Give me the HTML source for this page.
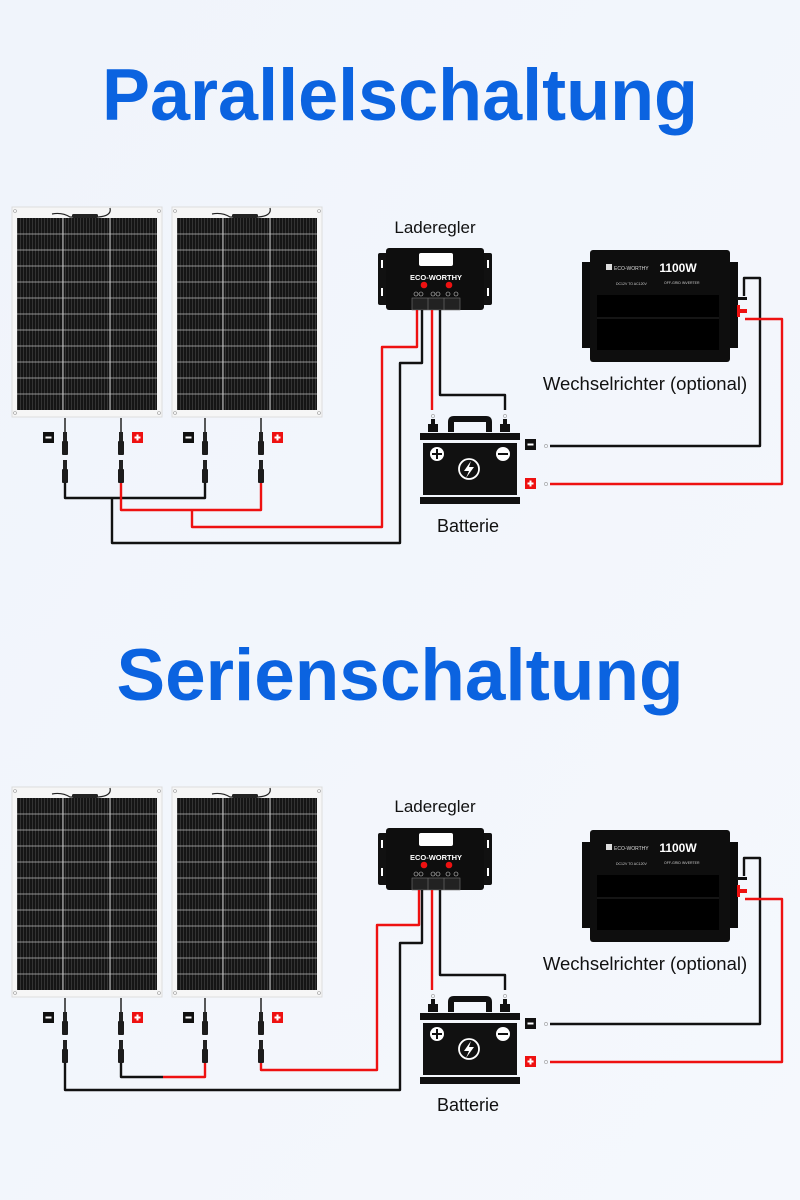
<!DOCTYPE html>
<html><head><meta charset="utf-8"><style>
html,body{margin:0;padding:0;width:800px;height:1200px;overflow:hidden;background:#f1f5fb}
svg{display:block}
text{font-family:"Liberation Sans",sans-serif}
</style></head><body>
<svg width="800" height="1200" viewBox="0 0 800 1200" xmlns="http://www.w3.org/2000/svg">
<defs>
<linearGradient id="bg" x1="0" y1="0" x2="1" y2="1"><stop offset="0" stop-color="#f0f4fb"/><stop offset="1" stop-color="#f5f8fd"/></linearGradient>
<pattern id="cellv" width="3" height="10" patternUnits="userSpaceOnUse"><rect width="3" height="10" fill="#151515"/><rect x="2" width="0.8" height="10" fill="#3a3a3a"/></pattern>
<g id="panel">
<rect x="0" y="0" width="150" height="210" fill="#f6f6f6" stroke="#ddd" stroke-width="1"/>
<rect x="5" y="11" width="140" height="192" fill="url(#cellv)"/>
<g stroke="#bbb" stroke-width="0.8">
<line x1="5" y1="27" x2="145" y2="27"/><line x1="5" y1="43" x2="145" y2="43"/><line x1="5" y1="59" x2="145" y2="59"/><line x1="5" y1="75" x2="145" y2="75"/><line x1="5" y1="91" x2="145" y2="91"/><line x1="5" y1="107" x2="145" y2="107"/><line x1="5" y1="123" x2="145" y2="123"/><line x1="5" y1="139" x2="145" y2="139"/><line x1="5" y1="155" x2="145" y2="155"/><line x1="5" y1="171" x2="145" y2="171"/><line x1="5" y1="187" x2="145" y2="187"/>
</g>
<g stroke="#ccc" stroke-width="1"><line x1="51" y1="11" x2="51" y2="203"/><line x1="98" y1="11" x2="98" y2="203"/></g>
<path d="M40 7 Q50 5 58 10 L86 10 Q100 9 98 1" fill="none" stroke="#222" stroke-width="1.2"/>
<rect x="60" y="7" width="26" height="4" rx="1.5" fill="#222"/>
<g fill="none" stroke="#999" stroke-width="0.6"><circle cx="3" cy="4" r="1.5"/><circle cx="147" cy="4" r="1.5"/><circle cx="3" cy="206" r="1.5"/><circle cx="147" cy="206" r="1.5"/></g>
</g>
<g id="conn">
<rect x="-2" y="0" width="4" height="10" fill="#222"/>
<rect x="-3" y="9" width="6" height="14" rx="1" fill="#1c1c1c"/>
</g>
<g id="minus"><rect width="11" height="11" fill="#111"/><rect x="2.5" y="4.5" width="6" height="2" fill="#fff"/></g>
<g id="plus"><rect width="11" height="11" fill="#e11"/><rect x="2.5" y="4.5" width="6" height="2" fill="#fff"/><rect x="4.5" y="2.5" width="2" height="6" fill="#fff"/></g>
<g id="ctrl">
<rect x="378" y="253" width="10" height="52" rx="2" fill="#111"/>
<rect x="482" y="253" width="10" height="52" rx="2" fill="#111"/>
<rect x="386" y="248" width="98" height="62" rx="3" fill="#0e0e0e"/>
<rect x="381" y="260" width="2" height="8" fill="#fff"/><rect x="381" y="288" width="2" height="8" fill="#fff"/>
<rect x="487" y="260" width="2" height="8" fill="#fff"/><rect x="487" y="288" width="2" height="8" fill="#fff"/>
<rect x="419" y="253" width="34" height="13" rx="2" fill="#fff"/>
<text x="436" y="280" font-size="7.5" font-weight="bold" fill="#fff" text-anchor="middle">ECO-WORTHY</text>
<circle cx="424" cy="285" r="3.3" fill="#e11"/><circle cx="449" cy="285" r="3.3" fill="#e11"/>
<g fill="none" stroke="#ccc" stroke-width="0.6"><circle cx="416" cy="294" r="2"/><circle cx="421" cy="294" r="2"/><circle cx="433" cy="294" r="2"/><circle cx="438" cy="294" r="2"/><circle cx="448" cy="294" r="2"/><circle cx="456" cy="294" r="2"/></g>
<rect x="412" y="298" width="48" height="12" fill="#222" stroke="#777" stroke-width="0.6"/>
<line x1="428" y1="298" x2="428" y2="310" stroke="#777" stroke-width="0.6"/><line x1="444" y1="298" x2="444" y2="310" stroke="#777" stroke-width="0.6"/>
</g>
<g id="inv">
<rect x="582" y="262" width="156" height="86" fill="#0b0b0b"/>
<rect x="590" y="250" width="140" height="112" rx="3" fill="#0e0e0e"/>
<rect x="597" y="295" width="122" height="55" fill="#000"/>
<line x1="597" y1="318" x2="719" y2="318" stroke="#2a2a2a"/>
<rect x="606" y="264" width="6" height="6" fill="#ddd"/>
<text x="614" y="270" font-size="5" fill="#ddd">ECO-WORTHY</text>
<text x="678" y="272" font-size="12" font-weight="bold" fill="#fff" text-anchor="middle">1100W</text>
<text x="616" y="285" font-size="3.5" fill="#ccc">DC12V TO AC120V</text>
<text x="664" y="284" font-size="3.5" fill="#ccc">OFF-GRID INVERTER</text>
<rect x="737" y="297" width="10" height="3" fill="#111"/>
<rect x="737" y="309" width="10" height="4" fill="#e11"/>
<rect x="737" y="305" width="3" height="12" fill="#e11"/>
</g>
<g id="batt">
<circle cx="433" cy="416" r="1.6" fill="none" stroke="#999" stroke-width="0.6"/><circle cx="505" cy="416" r="1.6" fill="none" stroke="#999" stroke-width="0.6"/>
<rect x="431" y="419" width="4" height="5" fill="#111"/><rect x="428" y="424" width="10" height="8" fill="#111"/>
<rect x="503" y="419" width="4" height="5" fill="#111"/><rect x="500" y="424" width="10" height="8" fill="#111"/>
<path d="M448 432 L448 422 Q448 416 454 416 L486 416 Q492 416 492 422 L492 432 Z M454 432 L454 422 L486 422 L486 432 Z" fill="#111" fill-rule="evenodd"/>
<rect x="420" y="433" width="100" height="7" fill="#111"/>
<rect x="423" y="443" width="94" height="52" fill="#111"/>
<rect x="420" y="497" width="100" height="7" fill="#111"/>
<circle cx="437" cy="454" r="7" fill="#fff"/><rect x="432" y="453" width="10" height="2" fill="#111"/><rect x="436" y="449" width="2" height="10" fill="#111"/>
<circle cx="503" cy="454" r="7" fill="#fff"/><rect x="498" y="453" width="10" height="2" fill="#111"/>
<circle cx="469" cy="469" r="10" fill="none" stroke="#fff" stroke-width="1.8"/>
<path d="M471 461 L464 471 L469 471 L466 478 L474 467 L469 467 Z" fill="#fff"/>
</g>
</defs>
<rect width="800" height="1200" fill="url(#bg)"/>

<!-- TOP -->
<text x="400" y="120" font-size="73" font-weight="bold" fill="#0b63e0" text-anchor="middle" textLength="596" lengthAdjust="spacingAndGlyphs">Parallelschaltung</text>
<use href="#panel" x="12" y="207"/>
<use href="#panel" x="172" y="207"/>
<text x="435" y="233" font-size="17" fill="#111" text-anchor="middle">Laderegler</text>
<use href="#ctrl"/>
<use href="#inv"/>
<text x="645" y="390" font-size="18.5" fill="#111" text-anchor="middle">Wechselrichter (optional)</text>
<use href="#batt"/>
<text x="468" y="532" font-size="18" fill="#111" text-anchor="middle">Batterie</text>
<g>
<line x1="65" y1="418" x2="65" y2="432" stroke="#222" stroke-width="1.5"/><line x1="121" y1="418" x2="121" y2="432" stroke="#222" stroke-width="1.5"/>
<line x1="205" y1="418" x2="205" y2="432" stroke="#222" stroke-width="1.5"/><line x1="261" y1="418" x2="261" y2="432" stroke="#222" stroke-width="1.5"/>
<use href="#conn" x="65" y="432"/><use href="#conn" x="121" y="432"/><use href="#conn" x="205" y="432"/><use href="#conn" x="261" y="432"/>
<use href="#conn" x="65" y="460"/><use href="#conn" x="121" y="460"/><use href="#conn" x="205" y="460"/><use href="#conn" x="261" y="460"/>
<use href="#minus" x="43" y="432"/><use href="#plus" x="132" y="432"/><use href="#minus" x="183" y="432"/><use href="#plus" x="272" y="432"/>
</g>
<g fill="none" stroke-width="2.4" stroke-linejoin="round">
<path d="M65 483 V498 H205 V483" stroke="#111"/>
<path d="M112 498 V543 H400 V363 H422 V310" stroke="#111"/>
<path d="M121 483 V510 H261 V483" stroke="#e11"/>
<path d="M192 510 V527 H382 V347 H417 V310" stroke="#e11"/>
<path d="M432 310 V410" stroke="#e11"/>
<path d="M440 310 V395 H505 V410" stroke="#111"/>
<path d="M550 446 H760 V278 H744 V296" stroke="#111"/>
<path d="M550 484 H782 V319 H745" stroke="#e11"/>
</g>
<use href="#minus" x="525" y="439"/><use href="#plus" x="525" y="478"/>
<circle cx="546" cy="446" r="1.6" fill="none" stroke="#999" stroke-width="0.6"/><circle cx="546" cy="484" r="1.6" fill="none" stroke="#999" stroke-width="0.6"/>

<!-- BOTTOM -->
<text x="400" y="700" font-size="73" font-weight="bold" fill="#0b63e0" text-anchor="middle" textLength="567" lengthAdjust="spacingAndGlyphs">Serienschaltung</text>
<g transform="translate(0,580)">
<use href="#panel" x="12" y="207"/>
<use href="#panel" x="172" y="207"/>
<text x="435" y="232" font-size="17" fill="#111" text-anchor="middle">Laderegler</text>
<use href="#ctrl"/>
<use href="#inv"/>
<text x="645" y="390" font-size="18.5" fill="#111" text-anchor="middle">Wechselrichter (optional)</text>
<use href="#batt"/>
<text x="468" y="531" font-size="18" fill="#111" text-anchor="middle">Batterie</text>
<g>
<line x1="65" y1="418" x2="65" y2="432" stroke="#222" stroke-width="1.5"/><line x1="121" y1="418" x2="121" y2="432" stroke="#222" stroke-width="1.5"/>
<line x1="205" y1="418" x2="205" y2="432" stroke="#222" stroke-width="1.5"/><line x1="261" y1="418" x2="261" y2="432" stroke="#222" stroke-width="1.5"/>
<use href="#conn" x="65" y="432"/><use href="#conn" x="121" y="432"/><use href="#conn" x="205" y="432"/><use href="#conn" x="261" y="432"/>
<use href="#conn" x="65" y="460"/><use href="#conn" x="121" y="460"/><use href="#conn" x="205" y="460"/><use href="#conn" x="261" y="460"/>
<use href="#minus" x="43" y="432"/><use href="#plus" x="132" y="432"/><use href="#minus" x="183" y="432"/><use href="#plus" x="272" y="432"/>
</g>
<g fill="none" stroke-width="2.4" stroke-linejoin="round">
<path d="M121 483 V497 H163" stroke="#111"/>
<path d="M163 497 H205 V483" stroke="#e11"/>
<path d="M65 483 V510 H400 V363 H422 V310" stroke="#111"/>
<path d="M261 483 V490 H377 V345 H419 V310" stroke="#e11"/>
<path d="M432 310 V410" stroke="#e11"/>
<path d="M440 310 V395 H505 V410" stroke="#111"/>
<path d="M550 444 H760 V278 H744 V296" stroke="#111"/>
<path d="M550 482 H782 V319 H745" stroke="#e11"/>
</g>
<use href="#minus" x="525" y="438"/><use href="#plus" x="525" y="476"/>
<circle cx="546" cy="444" r="1.6" fill="none" stroke="#999" stroke-width="0.6"/><circle cx="546" cy="482" r="1.6" fill="none" stroke="#999" stroke-width="0.6"/>
</g>
</svg>
</body></html>
